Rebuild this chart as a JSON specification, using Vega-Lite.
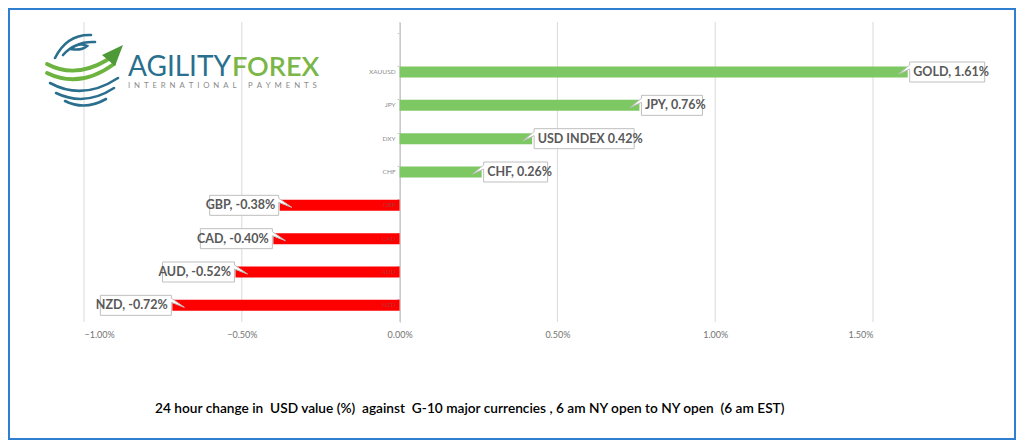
{
  "$schema": "https://vega.github.io/schema/vega-lite/v6.json",
  "width": 1006,
  "height": 430,
  "autosize": {"type": "none"},
  "padding": {"left": 9, "top": 9, "right": 9, "bottom": 9},
  "background": "white",
  "config": {"view": {"stroke": "#2f7fd1", "strokeWidth": 2}, "font": "Lato"},
  "title": {
    "text": "24 hour change in\u00a0 USD value (%)\u00a0 against\u00a0 G-10 major currencies , 6 am NY open to NY open\u00a0 (6 am EST)",
    "orient": "bottom",
    "anchor": "start",
    "frame": "group",
    "dx": 146,
    "offset": -37,
    "fontSize": 13.7,
    "fontWeight": 600,
    "color": "#000000",
    "font": "Lato"
  },
  "datasets": {
    "fx": [
      {"cat": "XAUUSD", "v": 1.61, "lab": "GOLD, 1.61%"},
      {"cat": "JPY", "v": 0.76, "lab": "JPY, 0.76%"},
      {"cat": "DXY", "v": 0.42, "lab": "USD INDEX 0.42%"},
      {"cat": "CHF", "v": 0.26, "lab": "CHF, 0.26%"},
      {"cat": "GBP", "v": -0.38, "lab": "GBP, -0.38%"},
      {"cat": "CAD", "v": -0.40, "lab": "CAD, -0.40%"},
      {"cat": "AUD", "v": -0.52, "lab": "AUD, -0.52%"},
      {"cat": "NZD", "v": -0.72, "lab": "NZD, -0.72%"}
    ],
    "ticks": [{"t": -1}, {"t": -0.5}, {"t": 0}, {"t": 0.5}, {"t": 1}, {"t": 1.5}]
  },
  "layer": [
    {
      "layer": [
        {
          "data": {"name": "ticks"},
          "mark": {"type": "rule", "color": "#d9d9d9", "strokeWidth": 1},
          "encoding": {
            "x": {"field": "t", "type": "quantitative", "title": null},
            "y": {"datum": 0, "type": "quantitative", "scale": {"domain": [0, 1], "range": [313, 13], "nice": false, "zero": false}, "axis": null},
            "y2": {"datum": 1}
          }
        },
        {
          "data": {"values": [{}]},
          "mark": {"type": "point", "filled": false, "opacity": 1, "size": 4, "stroke": "#2b6f8f", "strokeWidth": 2.6, "strokeCap": "round",
            "shape": "M-30,-12Q-18,-36 6,-35M-22,-15Q-10,-29 10,-28M-14,-21Q-6,-28 2,-24Q-4,-19 -14,-21M-35,13Q-2,31 33,8M-29,23Q0,37 29,18M-20,31Q0,41 21,29"},
          "encoding": {
            "x": {"datum": -0.9968, "type": "quantitative"},
            "y": {"datum": 0.84, "type": "quantitative"}
          }
        },
        {
          "data": {"values": [{}]},
          "mark": {"type": "point", "filled": false, "opacity": 1, "size": 4, "stroke": "#6cb33f", "strokeWidth": 3.8, "strokeCap": "round",
            "shape": "M-38,-6Q-10,9 22,-10M-38,3Q-5,19 29,-6"},
          "encoding": {
            "x": {"datum": -0.9968, "type": "quantitative"},
            "y": {"datum": 0.84, "type": "quantitative"}
          }
        },
        {
          "data": {"values": [{}]},
          "mark": {"type": "point", "filled": true, "opacity": 1, "size": 4, "fill": "#4f9a38", "strokeWidth": 0,
            "shape": "M17,-15L38,-25L30,-4Z"},
          "encoding": {
            "x": {"datum": -0.9968, "type": "quantitative"},
            "y": {"datum": 0.84, "type": "quantitative"}
          }
        },
        {
          "data": {"values": [{}]},
          "mark": {"type": "text", "text": "AGILITY", "align": "left", "baseline": "alphabetic", "fontSize": 28, "fontWeight": 400, "color": "#2a6f8e", "font": "Lato"},
          "encoding": {
            "x": {"datum": -0.8606, "type": "quantitative"},
            "y": {"datum": 0.82, "type": "quantitative"}
          }
        },
        {
          "data": {"values": [{}]},
          "mark": {"type": "text", "text": "FOREX", "align": "left", "baseline": "alphabetic", "dx": 104, "fontSize": 27, "fontWeight": 600, "color": "#7ab648", "font": "Lato"},
          "encoding": {
            "x": {"datum": -0.8606, "type": "quantitative"},
            "y": {"datum": 0.82, "type": "quantitative"}
          }
        },
        {
          "data": {"values": [{}]},
          "mark": {"type": "text", "text": "I\u2002N\u2002T\u2002E\u2002R\u2002N\u2002A\u2002T\u2002I\u2002O\u2002N\u2002A\u2002L\u2002\u2002\u2002P\u2002A\u2002Y\u2002M\u2002E\u2002N\u2002T\u2002S", "align": "left", "baseline": "alphabetic", "dy": 12, "fontSize": 7.8, "color": "#8a8a8a", "font": "Lato"},
          "encoding": {
            "x": {"datum": -0.8606, "type": "quantitative"},
            "y": {"datum": 0.82, "type": "quantitative"}
          }
        }
      ]
    },
    {
      "data": {"name": "fx"},
      "layer": [
        {
          "mark": {"type": "bar"},
          "encoding": {
            "x": {
              "field": "v", "type": "quantitative", "title": null,
              "scale": {"domain": [-1, 1.5], "range": [75, 864], "nice": false, "zero": false},
              "axis": {
                "values": [-1, -0.5, 0, 0.5, 1, 1.5],
                "labelExpr": "format(datum.value, '.2f') + '%'",
                "grid": false, "domain": false, "ticks": false,
                "offset": -117, "labelPadding": 8,
                "labelFontSize": 9, "labelColor": "#737373", "labelFont": "Lato"
              }
            },
            "y": {
              "field": "cat", "type": "nominal", "title": null, "sort": null,
              "scale": {"domain": [" ", "XAUUSD", "JPY", "DXY", "CHF", "GBP", "CAD", "AUD", "NZD"], "range": [13, 313], "paddingInner": 0.67, "paddingOuter": 0.335},
              "axis": {"orient": "left", "offset": -391, "labels": false, "ticks": true, "tickSize": 3, "tickColor": "#c8c8c8", "domainColor": "#c8c8c8", "bandPosition": 0, "grid": false, "title": null}
            },
            "color": {"condition": {"test": "datum.v < 0", "value": "#ff0000"}, "value": "#7ec864"}
          }
        },
        {
          "transform": [{"filter": "datum.v >= 0"}],
          "mark": {"type": "text", "align": "right", "baseline": "middle", "dx": -4, "fontSize": 6.5, "font": "Lato", "color": "#8c8c8c"},
          "encoding": {
            "x": {"datum": 0, "type": "quantitative"},
            "y": {"field": "cat", "type": "nominal", "title": null},
            "text": {"field": "cat"}
          }
        },
        {
          "transform": [{"filter": "datum.v < 0"}],
          "mark": {"type": "text", "align": "right", "baseline": "middle", "dx": -4, "fontSize": 6.5, "font": "Lato", "color": "#b83232"},
          "encoding": {
            "x": {"datum": 0, "type": "quantitative"},
            "y": {"field": "cat", "type": "nominal", "title": null},
            "text": {"field": "cat"}
          }
        },
        {
          "mark": {"type": "point", "filled": true, "fill": "white", "stroke": "#bfbfbf", "strokeWidth": 1, "size": 4, "opacity": 1},
          "encoding": {
            "x": {"field": "v", "type": "quantitative", "title": null},
            "y": {"field": "cat", "type": "nominal", "title": null},
            "shape": {
              "field": "cat", "type": "nominal", "legend": null,
              "scale": {
                "domain": ["XAUUSD", "JPY", "DXY", "CHF", "GBP", "CAD", "AUD", "NZD"],
                "range": [
                  "M2,-10H77V10H2V-3L-9,2L2,-7Z",
                  "M2,-10H63V10H2V-3L-9,2L2,-7Z",
                  "M2,-10H102V10H2V-3L-9,2L2,-7Z",
                  "M2,-10H66V10H2V-3L-9,2L2,-7Z",
                  "M-1,-10H-70V10H-1V-3L12,2L-1,-7Z",
                  "M-1,-10H-73V10H-1V-3L12,2L-1,-7Z",
                  "M-1,-10H-73V10H-1V-3L12,2L-1,-7Z",
                  "M-1,-10H-72V10H-1V-3L12,2L-1,-7Z"
                ]
              }
            }
          }
        },
        {
          "transform": [{"filter": "datum.v >= 0"}],
          "mark": {"type": "text", "align": "left", "baseline": "middle", "dx": 5.5, "fontSize": 12.5, "fontWeight": "bold", "color": "#595959", "font": "Lato"},
          "encoding": {
            "x": {"field": "v", "type": "quantitative", "title": null},
            "y": {"field": "cat", "type": "nominal", "title": null},
            "text": {"field": "lab"}
          }
        },
        {
          "transform": [{"filter": "datum.v < 0"}],
          "mark": {"type": "text", "align": "right", "baseline": "middle", "dx": -4.5, "fontSize": 12.5, "fontWeight": "bold", "color": "#595959", "font": "Lato"},
          "encoding": {
            "x": {"field": "v", "type": "quantitative", "title": null},
            "y": {"field": "cat", "type": "nominal", "title": null},
            "text": {"field": "lab"}
          }
        }
      ]
    }
  ],
  "resolve": {"scale": {"y": "independent"}}
}
